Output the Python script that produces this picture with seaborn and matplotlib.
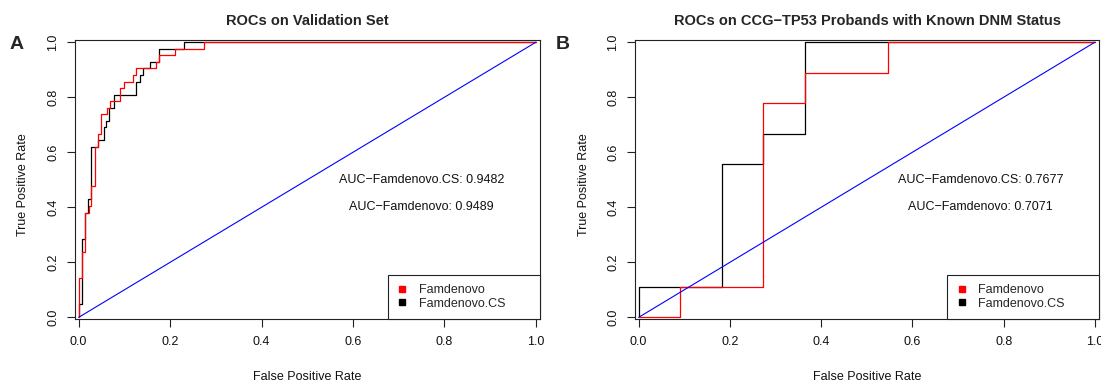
import numpy as np
import pandas as pd
import matplotlib
matplotlib.use("Agg")
import matplotlib.pyplot as plt
from matplotlib.lines import Line2D
import seaborn as sns

# ---------------- data ----------------
# Panel A: ROC on validation set (ROC operating points, steps-post)
a_famdenovo_fpr = [0.0, 0.0, 0.0073, 0.0131, 0.0219, 0.0277, 0.0350, 0.0423, 0.0488, 0.0620,
                   0.0692, 0.0911, 0.0984, 0.1188, 0.1261, 0.1691, 0.1749, 0.2099, 0.2733, 1.0]
a_famdenovo_tpr = [0.0, 0.1429, 0.2381, 0.3810, 0.4048, 0.4762, 0.6190, 0.6667, 0.7381, 0.7619,
                   0.7857, 0.8333, 0.8571, 0.8810, 0.9048, 0.9286, 0.9524, 0.9762, 1.0, 1.0]
a_cs_fpr = [0.0, 0.0, 0.0073, 0.0131, 0.0197, 0.0277, 0.0423, 0.0547, 0.0598, 0.0671,
            0.0765, 0.1261, 0.1334, 0.1407, 0.1552, 0.1749, 0.2310, 1.0]
a_cs_tpr = [0.0, 0.0476, 0.2857, 0.3810, 0.4286, 0.6190, 0.6429, 0.6905, 0.7143, 0.7619,
            0.8095, 0.8571, 0.8810, 0.9048, 0.9286, 0.9762, 1.0, 1.0]

# Panel B: ROC on CCG-TP53 probands
b_famdenovo_fpr = [0.0, 0.0909, 0.2727, 0.3636, 0.5455, 1.0]
b_famdenovo_tpr = [0.0, 0.1111, 0.7778, 0.8889, 1.0, 1.0]
b_cs_fpr = [0.0, 0.0, 0.1818, 0.2727, 0.3636, 1.0]
b_cs_tpr = [0.0, 0.1111, 0.5556, 0.6667, 1.0, 1.0]

auc_a = {"Famdenovo.CS": "0.9482", "Famdenovo": "0.9489"}
auc_b = {"Famdenovo.CS": "0.7677", "Famdenovo": "0.7071"}

titles = ["ROCs on Validation Set", "ROCs on CCG\u2212TP53 Probands with Known DNM Status"]
panel_letters = ["A", "B"]
ticks = [0.0, 0.2, 0.4, 0.6, 0.8, 1.0]
tick_labels = ["0.0", "0.2", "0.4", "0.6", "0.8", "1.0"]
legend_labels = ["Famdenovo", "Famdenovo.CS"]

# ---------------- style ----------------
sns.set_style("ticks")
plt.rcParams["font.family"] = ["Liberation Sans", "DejaVu Sans"]

RED = "#ff0000"
BLACK = "#000000"
BLUE = "#0000ff"

fig = plt.figure(figsize=(11.01, 3.83), dpi=100)
W, H = 1101, 383
ax_a = fig.add_axes([75 / W, (H - 319) / H, 465 / W, 279 / H])
ax_b = fig.add_axes([635 / W, (H - 319) / H, 464 / W, 279 / H])

panels = [
    (ax_a, a_famdenovo_fpr, a_famdenovo_tpr, a_cs_fpr, a_cs_tpr, auc_a),
    (ax_b, b_famdenovo_fpr, b_famdenovo_tpr, b_cs_fpr, b_cs_tpr, auc_b),
]

for i, (ax, rf, rt, cf, ct, auc) in enumerate(panels):
    df_cs = pd.DataFrame({"fpr": cf, "tpr": ct})
    df_fd = pd.DataFrame({"fpr": rf, "tpr": rt})
    sns.lineplot(data=df_cs, x="fpr", y="tpr", sort=False, estimator=None,
                 color=BLACK, lw=0.9, drawstyle="steps-post", ax=ax)
    sns.lineplot(data=df_fd, x="fpr", y="tpr", sort=False, estimator=None,
                 color=RED, lw=0.9, drawstyle="steps-post", ax=ax)
    sns.lineplot(x=[0.0, 1.0], y=[0.0, 1.0], color=BLUE, lw=0.8, ax=ax)

    ax.set_xlim(-0.008, 1.009)
    ax.set_ylim(-0.006, 1.008)
    ax.set_xticks(ticks)
    ax.set_xticklabels(tick_labels)
    ax.set_yticks(ticks)
    ax.set_yticklabels(tick_labels, rotation=90, va="center")
    ax.tick_params(axis="both", direction="out", length=5.5, width=0.8,
                   labelsize=9, color="#222222", labelcolor="#111111")
    ax.tick_params(axis="x", pad=7)
    ax.tick_params(axis="y", pad=6)
    for s in ax.spines.values():
        s.set_visible(True)
        s.set_linewidth(0.8)
        s.set_color("#222222")

    ax.set_xlabel("False Positive Rate", fontsize=9, color="#111111")
    ax.set_ylabel("True Positive Rate", fontsize=9, color="#111111")
    ax.xaxis.set_label_coords(0.5, -0.185)
    ax.yaxis.set_label_coords(-0.098, 0.48)
    ax.set_title(titles[i], fontsize=10.5, fontweight="bold", pad=10.5)

    ax.text(0.75, 0.5, f"AUC\u2212Famdenovo.CS: {auc['Famdenovo.CS']}",
            ha="center", va="center", fontsize=9, color="#111111")
    ax.text(0.75, 0.4, f"AUC\u2212Famdenovo: {auc['Famdenovo']}",
            ha="center", va="center", fontsize=9, color="#111111")

    handles = [Line2D([], [], ls="none", marker="s", markersize=4, color=RED),
               Line2D([], [], ls="none", marker="s", markersize=4, color=BLACK)]
    leg = ax.legend(handles, legend_labels, loc="lower left",
                    bbox_to_anchor=(0.673, 0.0, 0.327, 0.2), mode="expand",
                    borderaxespad=0.0, fancybox=False, framealpha=1,
                    edgecolor="#222222", fontsize=9, handlelength=0.8,
                    handletextpad=0.9, borderpad=0.75, labelspacing=0.1)
    leg.get_frame().set_linewidth(0.8)

fig.text(10 / W, 1 - 49 / H, panel_letters[0], fontsize=14, fontweight="bold", va="baseline")
fig.text(556 / W, 1 - 49 / H, panel_letters[1], fontsize=14, fontweight="bold", va="baseline")

fig.savefig("out.png", dpi=100)
